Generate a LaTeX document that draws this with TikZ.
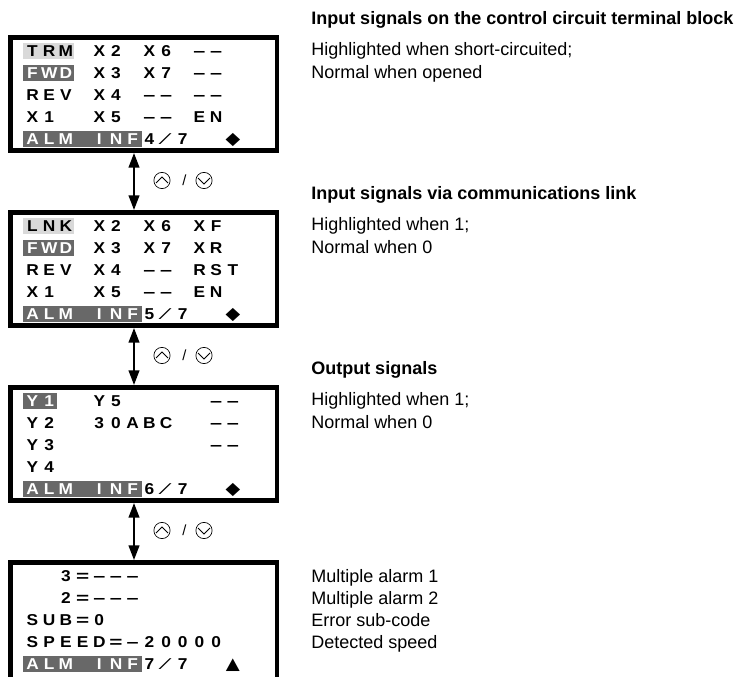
\documentclass[tikz,border=0pt]{standalone}
\usepackage{fontspec}
\setmainfont{Liberation Sans}
\newfontfamily\symfont{DejaVu Sans}
\usetikzlibrary{arrows.meta}
\definecolor{hidark}{HTML}{686868}
\definecolor{hilight}{HTML}{D9D9D9}
\newcommand{\dsh}{\scalebox{1.25}[1]{–}}
\newcommand{\eqs}{\scalebox{1.3}[1]{=}}
\newcommand{\slsh}{{\mdseries\scalebox{1.5}[1]{⁄}}}
\newcommand{\dmd}{{\symfont\scalebox{1.1}{◆}}}
\newcommand{\tri}{{\symfont\scalebox{1.05}{▲}}}
\newcommand{\lcdrow}[4][]{%
  \foreach \lcdi/\lcdch in {#4} {%
    \node[lcdchar,#1] (#2c\lcdi) at ({32.5+16.7*\lcdi},{#3+5.5}) {\scalebox{1.1}[1]{\lcdch}};
  }%
}
\newcommand{\hiband}[3]{\fill[#1] (23,{#2-8}) rectangle (#3,{#2+8});}
\tikzset{
  lcdchar/.style={inner sep=0pt, anchor=base, text=black,
    font=\fontsize{11.8}{13}\selectfont\bfseries},
  lcdbox/.style={draw=black, fill=white, line width=3.4pt, inner sep=0pt,
    minimum width=199.9pt},
  dblarrow/.style={line width=1.5pt, {Triangle[length=11pt,width=8pt]}-{Triangle[length=11pt,width=8pt]}},
  btn/.style={circle, draw=black, line width=0.5pt, minimum size=12.2pt, inner sep=0pt},
  chev/.style={line width=0.55pt, line join=miter},
  slashtxt/.style={inner sep=0pt, font=\fontsize{11}{12}\selectfont},
  head/.style={anchor=base west, inner sep=0pt, font=\fontsize{13.5}{16}\selectfont\bfseries},
  desc/.style={anchor=base west, inner sep=0pt, font=\fontsize{13.5}{16}\selectfont},
}
\begin{document}
\begin{tikzpicture}[x=0.75pt, y=-0.75pt]
\useasboundingbox (0,0) rectangle (739,677);
\fill[white] (0,0) rectangle (739,677);
\clip (0,0) rectangle (739,677);

% LCD boxes
\node[lcdbox, minimum height=85.1pt] (box1) at (143.5,94) {};
\node[lcdbox, minimum height=85.1pt] (box2) at (143.5,269) {};
\node[lcdbox, minimum height=85.1pt] (box3) at (143.5,444) {};
\node[lcdbox, minimum height=91pt] (box4) at (143.5,623) {};

% arrows and buttons
\coordinate (ax) at (134,0);
\draw[dblarrow] (box1.south -| ax) -- (box2.north -| ax);
\draw[dblarrow] (box2.south -| ax) -- (box3.north -| ax);
\draw[dblarrow] (box3.south -| ax) -- (box4.north -| ax);
\foreach \k/\yy in {1/180.5, 2/355.5, 3/530.5} {
  \node[btn] (up\k) at (162,\yy) {};
  \node[btn] (dn\k) at (204,\yy) {};
  \node[slashtxt] (sl\k) at (184.5,\yy) {/};
  \draw[chev] ([shift={(-6,2.5)}]up\k.center) -- ([shift={(0,-3.5)}]up\k.center) -- ([shift={(6,2.5)}]up\k.center);
  \draw[chev] ([shift={(-6,-2.5)}]dn\k.center) -- ([shift={(0,3.5)}]dn\k.center) -- ([shift={(6,-2.5)}]dn\k.center);
}

% ---- box 1 ----
\hiband{hilight}{51}{74}
\hiband{hidark}{73}{74}
\hiband{hidark}{139}{142}
\lcdrow{b1r0}{51}{0/T,1/R,2/M,4/X,5/2,7/X,8/6,10/\dsh,11/\dsh}
\lcdrow[text=white]{b1r1}{73}{0/F,1/W,2/D}
\lcdrow{b1r1x}{73}{4/X,5/3,7/X,8/7,10/\dsh,11/\dsh}
\lcdrow{b1r2}{95}{0/R,1/E,2/V,4/X,5/4,7/\dsh,8/\dsh,10/\dsh,11/\dsh}
\lcdrow{b1r3}{117}{0/X,1/1,4/X,5/5,7/\dsh,8/\dsh,10/E,11/N}
\lcdrow[text=white]{b1r4}{139}{0/A,1/L,2/M,4/I,5/N,6/F}
\lcdrow{b1r4x}{139}{7/4,8/\slsh,9/7,12/\dmd}

% ---- box 2 ----
\hiband{hilight}{226}{74}
\hiband{hidark}{248}{74}
\hiband{hidark}{314}{142}
\lcdrow{b2r0}{226}{0/L,1/N,2/K,4/X,5/2,7/X,8/6,10/X,11/F}
\lcdrow[text=white]{b2r1}{248}{0/F,1/W,2/D}
\lcdrow{b2r1x}{248}{4/X,5/3,7/X,8/7,10/X,11/R}
\lcdrow{b2r2}{270}{0/R,1/E,2/V,4/X,5/4,7/\dsh,8/\dsh,10/R,11/S,12/T}
\lcdrow{b2r3}{292}{0/X,1/1,4/X,5/5,7/\dsh,8/\dsh,10/E,11/N}
\lcdrow[text=white]{b2r4}{314}{0/A,1/L,2/M,4/I,5/N,6/F}
\lcdrow{b2r4x}{314}{7/5,8/\slsh,9/7,12/\dmd}

% ---- box 3 ----
\hiband{hidark}{401}{57}
\hiband{hidark}{489}{142}
\lcdrow[text=white]{b3r0}{401}{0/Y,1/1}
\lcdrow{b3r0x}{401}{4/Y,5/5,11/\dsh,12/\dsh}
\lcdrow{b3r1}{423}{0/Y,1/2,4/3,5/0,6/A,7/B,8/C,11/\dsh,12/\dsh}
\lcdrow{b3r2}{445}{0/Y,1/3,11/\dsh,12/\dsh}
\lcdrow{b3r3}{467}{0/Y,1/4}
\lcdrow[text=white]{b3r4}{489}{0/A,1/L,2/M,4/I,5/N,6/F}
\lcdrow{b3r4x}{489}{7/6,8/\slsh,9/7,12/\dmd}

% ---- box 4 ----
\hiband{hidark}{664}{142}
\lcdrow{b4r0}{576}{2/3,3/\eqs,4/\dsh,5/\dsh,6/\dsh}
\lcdrow{b4r1}{598}{2/2,3/\eqs,4/\dsh,5/\dsh,6/\dsh}
\lcdrow{b4r2}{620}{0/S,1/U,2/B,3/\eqs,4/0}
\lcdrow{b4r3}{642}{0/S,1/P,2/E,3/E,4/D,5/\eqs,6/\dsh,7/2,8/0,9/0,10/0,11/0}
\lcdrow[text=white]{b4r4}{664}{0/A,1/L,2/M,4/I,5/N,6/F}
\lcdrow{b4r4x}{664}{7/7,8/\slsh,9/7,12/\tri}

% ---- descriptions ----
\node[head] (h1) at (311,24.5) {Input signals on the control circuit terminal block};
\node[desc] (d1a) at (311,55.5) {Highlighted when short-circuited;};
\node[desc] (d1b) at (311,78.5) {Normal when opened};
\node[head] (h2) at (311,199.5) {Input signals via communications link};
\node[desc] (d2a) at (311,230.5) {Highlighted when 1;};
\node[desc] (d2b) at (311,253.5) {Normal when 0};
\node[head] (h3) at (311,374.5) {Output signals};
\node[desc] (d3a) at (311,405.5) {Highlighted when 1;};
\node[desc] (d3b) at (311,428.5) {Normal when 0};
\node[desc] (d4a) at (311,582.5) {Multiple alarm 1};
\node[desc] (d4b) at (311,604.5) {Multiple alarm 2};
\node[desc] (d4c) at (311,626.5) {Error sub-code};
\node[desc] (d4d) at (311,648.5) {Detected speed};
\end{tikzpicture}
\end{document}
